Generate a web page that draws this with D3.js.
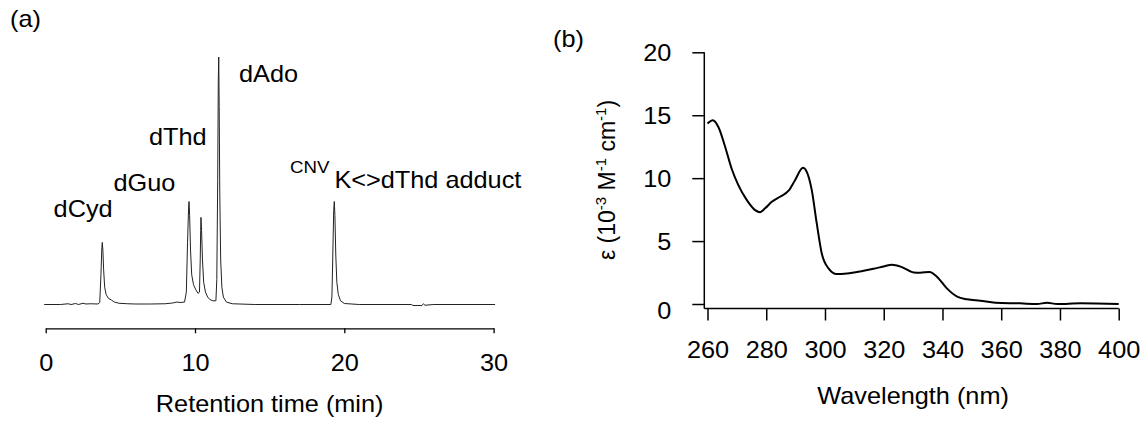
<!DOCTYPE html>
<html>
<head>
<meta charset="utf-8">
<script src="https://cdn.jsdelivr.net/npm/d3@7"></script>
<style>
  html, body { margin: 0; padding: 0; background: #fff; }
  svg { display: block; }
  text { font-family: "Liberation Sans", Arial, Helvetica, sans-serif; fill: #000; }
</style>
</head>
<body>
<svg id="chart" width="1147" height="422"></svg>
<script>
// ---------------- DATA ----------------
// (a) HPLC chromatogram: retention time (min) and detector signal (relative units, dAdo = 100)
const traceTime = [-0.1, 1.0, 1.5, 1.7, 2.0, 2.2, 2.5, 2.7, 3.0, 3.5, 3.62, 3.7, 3.76, 3.79, 3.83, 3.88, 3.95, 4.05, 4.2, 4.4, 4.6, 4.9, 5.5, 6.0, 7.0, 8.0, 8.5, 8.8, 9.0, 9.3,
  9.42, 9.5, 9.57, 9.6, 9.64, 9.7, 9.78, 9.9, 10.05, 10.2, 10.3, 10.35, 10.38, 10.4, 10.44, 10.5, 10.58, 10.7, 10.85, 11.0, 11.2, 11.4,
  11.46, 11.52, 11.56, 11.59, 11.62, 11.66, 11.72, 11.8, 11.9, 12.1, 12.5, 14, 17, 19.1, 19.17, 19.23, 19.29, 19.33, 19.37, 19.43, 19.5, 19.6, 19.75, 20,
  21, 24.5, 24.6, 25.2, 25.3, 25.4, 26, 30.1];
const traceSignal = [0, 0, 0.3, 0, 0.4, 0, 0.5, 0.2, 0.3, 0.2, 0.8, 12, 23, 25.1, 22, 14, 7, 4, 2.5, 1.8, 1.0, 0.5, 0.3, 0.2, 0.2, 0.3, 0.6, 1.0, 0.8, 1.0,
  5, 25, 39, 41.6, 36, 22, 12, 8, 6, 4.5, 5, 18, 30, 35.2, 30, 18, 9, 5, 3, 2, 1.5, 1.5,
  10, 50, 90, 100, 80, 45, 18, 7, 3, 1, 0.3, 0, 0, 0, 3, 20, 38, 41.6, 36, 20, 9, 4, 1.5, 0.4,
  0, 0, -0.4, -0.4, 0.3, -0.3, 0, 0];
const timeTicks = [0, 10, 20, 30];
const peakNames = ["dCyd", "dGuo", "dThd", "dAdo"];

// (b) UV absorption spectrum: wavelength (nm) and epsilon (10^-3 M^-1 cm^-1)
const wavelength = [260, 261.8, 263.7, 266, 268.2, 270.5, 273.4, 276.2, 277.9, 279.6, 281.9, 284.7, 287.6, 289.8, 292.5, 293.8, 295.5, 297.2, 298.9,
  301.2, 304, 307.5, 312, 316.5, 319.9, 322.8, 326, 330.2, 332.4, 335.6, 338.1, 341.5, 345, 348.4, 352.9, 358, 366.5, 372.2, 375.6, 379, 387, 400];
const epsilon = [14.34, 14.6, 14.07, 12.5, 10.77, 9.44, 8.25, 7.46, 7.3, 7.6, 8.12, 8.52, 9.0, 9.84, 10.82, 10.5, 9.05, 6.4, 4.02,
  2.83, 2.38, 2.43, 2.59, 2.8, 2.98, 3.12, 2.95, 2.51, 2.49, 2.54, 2.17, 1.24, 0.58, 0.37, 0.26, 0.1, 0.05, 0.0, 0.1, 0.0, 0.05, 0.0];
const wlTicks = [260, 280, 300, 320, 340, 360, 380, 400];
const epsTicks = [0, 5, 10, 15, 20];

// ---------------- LAYOUT ----------------
const SX = 1.1;          // horizontal stretch of the original lettering
const FS = 23;
const FONT = "\"Liberation Sans\", Arial, sans-serif";
const svg = d3.select("#chart");

function label(parent, x, y, str, opts = {}) {
  return parent.append("text")
    .attr("transform", `translate(${x},${y}) scale(${SX},1)`)
    .attr("font-size", opts.size || FS)
    .attr("text-anchor", opts.anchor || "start")
    .text(str);
}

// ---------- Panel (a) ----------
const xA = d3.scaleLinear().domain([0, 30]).range([45.7, 493.6]);
const yA = d3.scaleLinear().domain([0, 100]).range([304.5, 57]);

const trace = traceTime.map((t, i) => [t, traceSignal[i]]);
svg.append("path")
  .datum(trace)
  .attr("fill", "none")
  .attr("stroke", "#222")
  .attr("stroke-width", 1)
  .attr("stroke-linejoin", "round")
  .attr("d", d3.line().x(d => xA(d[0])).y(d => yA(d[1])));

const axA = svg.append("g")
  .attr("transform", "translate(0,328.3)")
  .call(d3.axisBottom(xA).tickValues(timeTicks).tickSize(5).tickSizeOuter(0).tickFormat(d3.format("d")));
axA.select(".domain").attr("stroke", "#000").attr("stroke-width", 1.3);
axA.selectAll(".tick line").attr("stroke", "#000").attr("stroke-width", 1.3);
axA.selectAll(".tick text")
  .attr("y", 43).attr("dy", 0)
  .attr("transform", `scale(${SX},1)`)
  .attr("font-size", FS)
  .attr("font-family", FONT)
  .attr("fill", "#000");

label(svg, xA(15), 412, "Retention time (min)", { anchor: "middle" });
label(svg, 10, 27, "(a)");

// peak labels
const peakLabelPos = [[53.6, 217.3], [113.5, 191], [149, 144.5], [239, 81.5]];
peakNames.forEach((n, i) => label(svg, peakLabelPos[i][0], peakLabelPos[i][1], n));
label(svg, 290, 173, "CNV", { size: 17 });
label(svg, 334.4, 188.3, "K<>dThd adduct");

// ---------- Panel (b) ----------
const xB = d3.scaleLinear().domain([260, 400]).range([707.5, 1118.7]);
const yB = d3.scaleLinear().domain([0, 20]).range([304, 52.3]);
const yAxisX = 704.3, xAxisY = 308.5;

const axBx = svg.append("g")
  .attr("transform", `translate(0,${xAxisY})`)
  .call(d3.axisBottom(xB).tickValues(wlTicks).tickSize(12).tickSizeOuter(0).tickFormat(d3.format("d")));
axBx.select(".domain").remove();
axBx.selectAll(".tick line").attr("stroke", "#000").attr("stroke-width", 1.5);
axBx.selectAll(".tick text")
  .attr("y", 50).attr("dy", 0)
  .attr("transform", `scale(${SX},1)`)
  .attr("font-size", FS)
  .attr("font-family", FONT)
  .attr("fill", "#000");

const axBy = svg.append("g")
  .attr("transform", `translate(${yAxisX},0)`)
  .call(d3.axisLeft(yB).tickValues(epsTicks).tickSize(12).tickSizeOuter(0).tickFormat(d3.format("d")));
axBy.select(".domain").remove();
axBy.selectAll(".tick line").attr("stroke", "#000").attr("stroke-width", 1.5);
axBy.selectAll(".tick text")
  .attr("x", -33 / SX).attr("dy", d => d === 0 ? "0.62em" : "0.36em")
  .attr("transform", `scale(${SX},1)`)
  .attr("font-size", FS)
  .attr("font-family", FONT)
  .attr("fill", "#000");

// L-shaped frame
svg.append("line").attr("x1", yAxisX).attr("x2", yAxisX).attr("y1", yB(20)).attr("y2", xAxisY)
  .attr("stroke", "#000").attr("stroke-width", 1.5);
svg.append("line").attr("x1", yAxisX).attr("x2", xB(400)).attr("y1", xAxisY).attr("y2", xAxisY)
  .attr("stroke", "#000").attr("stroke-width", 1.5);

const spec = wavelength.map((w, i) => [w, epsilon[i]]);
svg.append("path")
  .datum(spec)
  .attr("fill", "none")
  .attr("stroke", "#000")
  .attr("stroke-width", 2)
  .attr("stroke-linejoin", "round")
  .attr("d", d3.line().curve(d3.curveMonotoneX).x(d => xB(d[0])).y(d => yB(d[1])));

label(svg, 553, 47, "(b)");
label(svg, xB(330), 404, "Wavelength (nm)", { anchor: "middle" });

// rotated y label: ε (10^-3 M^-1 cm^-1)
const yl = svg.append("text")
  .attr("transform", "translate(615,180) rotate(-90)")
  .attr("text-anchor", "middle")
  .attr("font-size", 23);
yl.append("tspan").text("ε (10");
yl.append("tspan").attr("font-size", 15).attr("dy", -9).text("-3");
yl.append("tspan").attr("dy", 9).text(" M");
yl.append("tspan").attr("font-size", 15).attr("dy", -9).text("-1");
yl.append("tspan").attr("dy", 9).text(" cm");
yl.append("tspan").attr("font-size", 15).attr("dy", -9).text("-1");
yl.append("tspan").attr("dy", 9).text(")");
</script>
</body>
</html>
